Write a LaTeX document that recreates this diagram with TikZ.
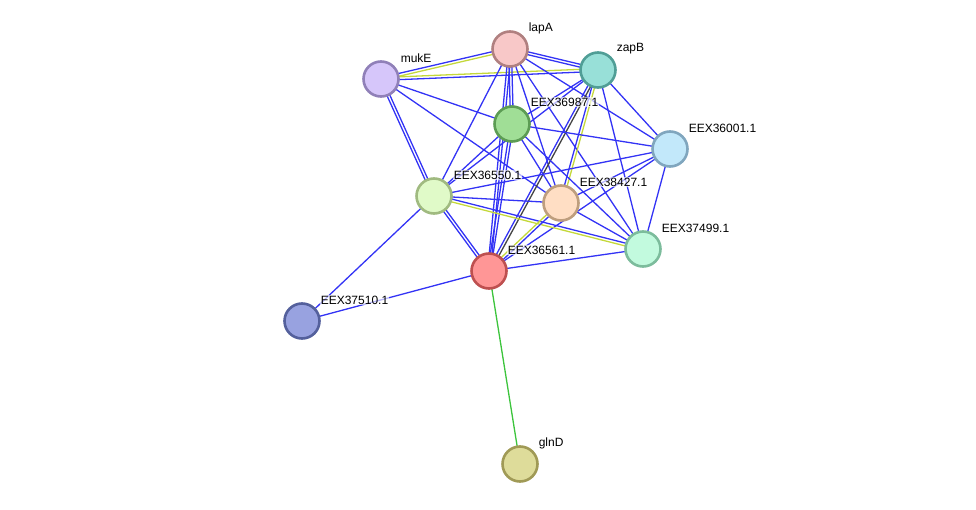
\documentclass[tikz,border=0pt]{standalone}
\usepackage{fontspec}
\setmainfont{Liberation Sans}
\usetikzlibrary{calc}
\definecolor{eblue}{HTML}{3333F5}
\definecolor{eyel}{HTML}{C4D83A}
\definecolor{eblk}{HTML}{444444}
\definecolor{egrn}{HTML}{3CC43C}
\tikzset{
  prot/.style={circle, minimum size=35pt, inner sep=0pt, line width=2.6pt},
  lbl/.style={anchor=west, font=\fontsize{12}{13}\selectfont, inner sep=0.6pt,
    fill=white, fill opacity=0.65, text opacity=1},
  edge/.style={line width=1.3pt},
}
\newcommand{\one}[3]{\draw[edge,#3] (#1) -- (#2);}
\newcommand{\two}[4]{%
  \draw[edge,#3] ($(#1)!1.4pt!90:(#2)$) -- ($(#2)!1.4pt!-90:(#1)$);
  \draw[edge,#4] ($(#1)!1.4pt!-90:(#2)$) -- ($(#2)!1.4pt!90:(#1)$);}
\begin{document}
\begin{tikzpicture}[x=1pt,y=-1pt]
\useasboundingbox (0,0) rectangle (976,510);
% coordinates
\coordinate (lapA) at (510,49);
\coordinate (zapB) at (598,70);
\coordinate (mukE) at (381,79);
\coordinate (e987) at (512,124);
\coordinate (e001) at (670,149);
\coordinate (e550) at (434,196);
\coordinate (e427) at (561,203);
\coordinate (e499) at (643,249);
\coordinate (e561) at (489,271);
\coordinate (e510) at (302,321);
\coordinate (glnD) at (520,464);
% edges
\two{mukE}{lapA}{eblue}{eyel}
\two{mukE}{zapB}{eyel}{eblue}
\two{lapA}{zapB}{eblue}{eblue}
\one{mukE}{e987}{eblue}
\two{mukE}{e550}{eblue}{eblue}
\one{mukE}{e427}{eblue}
\two{lapA}{e987}{eblue}{eblue}
\one{lapA}{e550}{eblue}
\two{lapA}{e561}{eblue}{eblue}
\one{lapA}{e427}{eblue}
\one{lapA}{e499}{eblue}
\one{lapA}{e001}{eblue}
\one{zapB}{e987}{eblue}
\one{zapB}{e550}{eblue}
\two{zapB}{e561}{eblk}{eblue}
\two{zapB}{e427}{eyel}{eblue}
\one{zapB}{e001}{eblue}
\one{zapB}{e499}{eblue}
\one{e987}{e001}{eblue}
\one{e987}{e550}{eblue}
\two{e987}{e561}{eblue}{eblue}
\one{e987}{e427}{eblue}
\one{e987}{e499}{eblue}
\one{e001}{e550}{eblue}
\one{e001}{e427}{eblue}
\one{e001}{e561}{eblue}
\one{e001}{e499}{eblue}
\one{e550}{e427}{eblue}
\two{e550}{e499}{eblue}{eyel}
\two{e550}{e561}{eblue}{eblue}
\one{e550}{e510}{eblue}
\two{e427}{e561}{eblue}{eyel}
\one{e427}{e499}{eblue}
\one{e561}{e499}{eblue}
\one{e561}{e510}{eblue}
\one{e561}{glnD}{egrn}
% nodes
\node[prot, fill={rgb,255:red,248;green,200;blue,200}, draw={rgb,255:red,176;green,128;blue,128}] (nlapA) at (lapA) {};
\node[prot, fill={rgb,255:red,152;green,224;blue,216}, draw={rgb,255:red,80;green,158;blue,150}] (nzapB) at (zapB) {};
\node[prot, fill={rgb,255:red,214;green,198;blue,250}, draw={rgb,255:red,144;green,128;blue,184}] (nmukE) at (mukE) {};
\node[prot, fill={rgb,255:red,160;green,222;blue,150}, draw={rgb,255:red,92;green,156;blue,84}] (n987) at (e987) {};
\node[prot, fill={rgb,255:red,194;green,232;blue,250}, draw={rgb,255:red,128;green,166;blue,190}] (n001) at (e001) {};
\node[prot, fill={rgb,255:red,224;green,250;blue,200}, draw={rgb,255:red,160;green,186;blue,128}] (n550) at (e550) {};
\node[prot, fill={rgb,255:red,255;green,222;blue,196}, draw={rgb,255:red,190;green,158;blue,126}] (n427) at (e427) {};
\node[prot, fill={rgb,255:red,194;green,250;blue,222}, draw={rgb,255:red,124;green,188;blue,156}] (n499) at (e499) {};
\node[prot, fill={rgb,255:red,255;green,150;blue,150}, draw={rgb,255:red,190;green,80;blue,80}] (n561) at (e561) {};
\node[prot, fill={rgb,255:red,152;green,162;blue,224}, draw={rgb,255:red,84;green,96;blue,156}] (n510) at (e510) {};
\node[prot, fill={rgb,255:red,222;green,220;blue,154}, draw={rgb,255:red,160;green,154;blue,86}] (nglnD) at (glnD) {};
% labels
\node[lbl] (llapA) at ($(lapA)+(18,-21)$) {lapA};
\node[lbl] (lzapB) at ($(zapB)+(18,-21)$) {zapB};
\node[lbl] (lmukE) at ($(mukE)+(19,-21)$) {mukE};
\node[lbl] (l987) at ($(e987)+(18,-22)$) {EEX36987.1};
\node[lbl] (l001) at ($(e001)+(18,-21)$) {EEX36001.1};
\node[lbl] (l550) at ($(e550)+(19,-21)$) {EEX36550.1};
\node[lbl] (l427) at ($(e427)+(18,-21)$) {EEX38427.1};
\node[lbl] (l499) at ($(e499)+(18,-21)$) {EEX37499.1};
\node[lbl] (l561) at ($(e561)+(18,-21)$) {EEX36561.1};
\node[lbl] (l510) at ($(e510)+(18,-21)$) {EEX37510.1};
\node[lbl] (lglnD) at ($(glnD)+(18,-21)$) {glnD};
\end{tikzpicture}
\end{document}
